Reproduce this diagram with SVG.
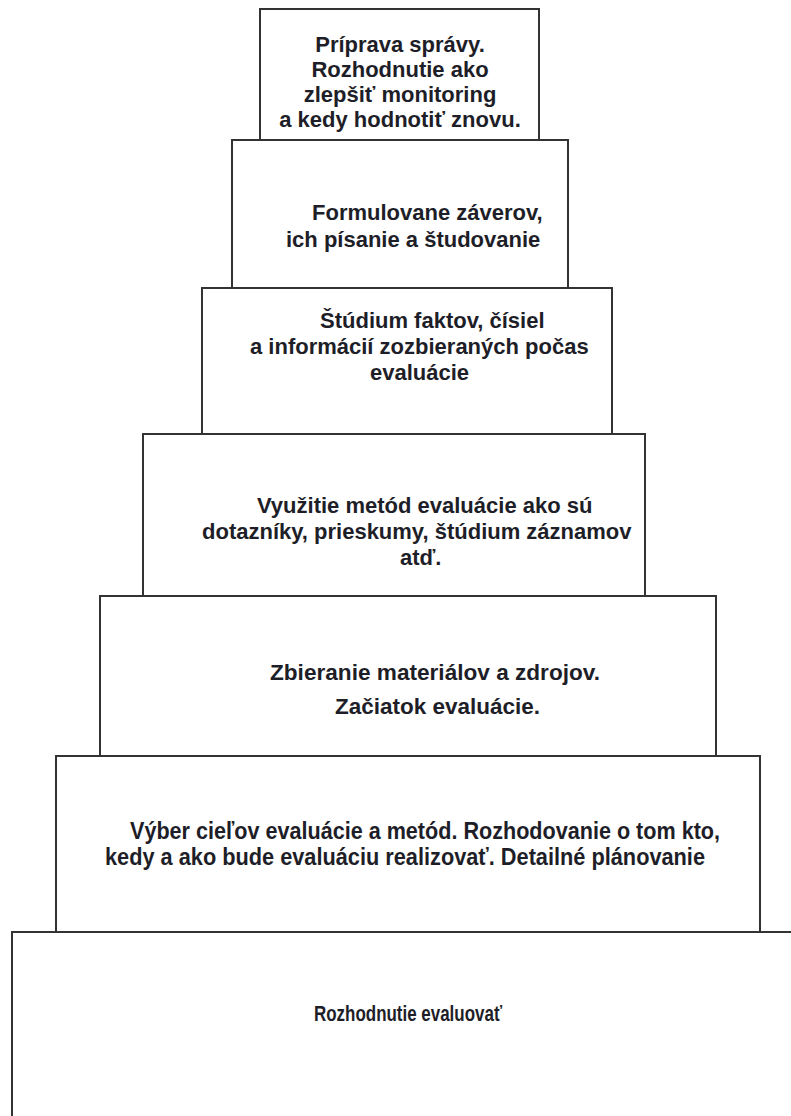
<svg xmlns="http://www.w3.org/2000/svg" width="791" height="1116" viewBox="0 0 791 1116">
<style>
.box{fill:#fff;stroke:#333;stroke-width:2}
.t{font-family:"Liberation Sans",Arial,sans-serif;font-weight:bold;font-size:22px;fill:#1e1e28}
.n{font-size:23px}
.m{text-anchor:middle}
</style>
<rect width="791" height="1116" fill="#fff"/>
<g id="n7"><path class="box" d="M12,1116 V932 H791"/><text class="t" x="314" y="1021" font-size="22" textLength="188" lengthAdjust="spacingAndGlyphs">Rozhodnutie evaluovať</text></g>
<g id="n6"><rect class="box" x="56" y="756" width="704" height="176"/>
<text class="t n" x="130" y="839" textLength="590" lengthAdjust="spacingAndGlyphs">Výber cieľov evaluácie a metód. Rozhodovanie o tom kto,</text>
<text class="t n" x="105" y="865" textLength="600" lengthAdjust="spacingAndGlyphs">kedy a ako bude evaluáciu realizovať. Detailné plánovanie</text></g>
<g id="n5"><rect class="box" x="100" y="596" width="616" height="160"/>
<text class="t" x="270" y="680" font-size="24" textLength="330" lengthAdjust="spacingAndGlyphs">Zbieranie materiálov a zdrojov.</text>
<text class="t" x="335" y="714" font-size="24" textLength="205" lengthAdjust="spacingAndGlyphs">Začiatok evaluácie.</text></g>
<g id="n4"><rect class="box" x="143" y="434" width="502" height="162"/>
<text class="t" x="257" y="513">Využitie metód evaluácie ako  sú</text>
<text class="t" x="202" y="539">dotazníky, prieskumy, štúdium záznamov</text>
<text class="t" x="400" y="565">atď.</text></g>
<g id="n3"><rect class="box" x="202" y="288" width="410" height="146"/>
<text class="t" x="320" y="328">Štúdium faktov, čísiel</text>
<text class="t" x="250" y="354">a informácií zozbieraných počas</text>
<text class="t" x="370" y="380">evaluácie</text></g>
<g id="n2"><rect class="box" x="232" y="140" width="336" height="148"/>
<text class="t" x="312" y="220">Formulovane záverov,</text>
<text class="t" x="286" y="247">ich písanie a študovanie</text></g>
<g id="n1"><rect class="box" x="260" y="9" width="279" height="131"/>
<text class="t m" x="400" y="52">Príprava správy.</text>
<text class="t m" x="400" y="77">Rozhodnutie ako</text>
<text class="t m" x="400" y="102">zlepšiť monitoring</text>
<text class="t m" x="400" y="127">a kedy hodnotiť znovu.</text></g>
<g id="connectors"></g>
</svg>
